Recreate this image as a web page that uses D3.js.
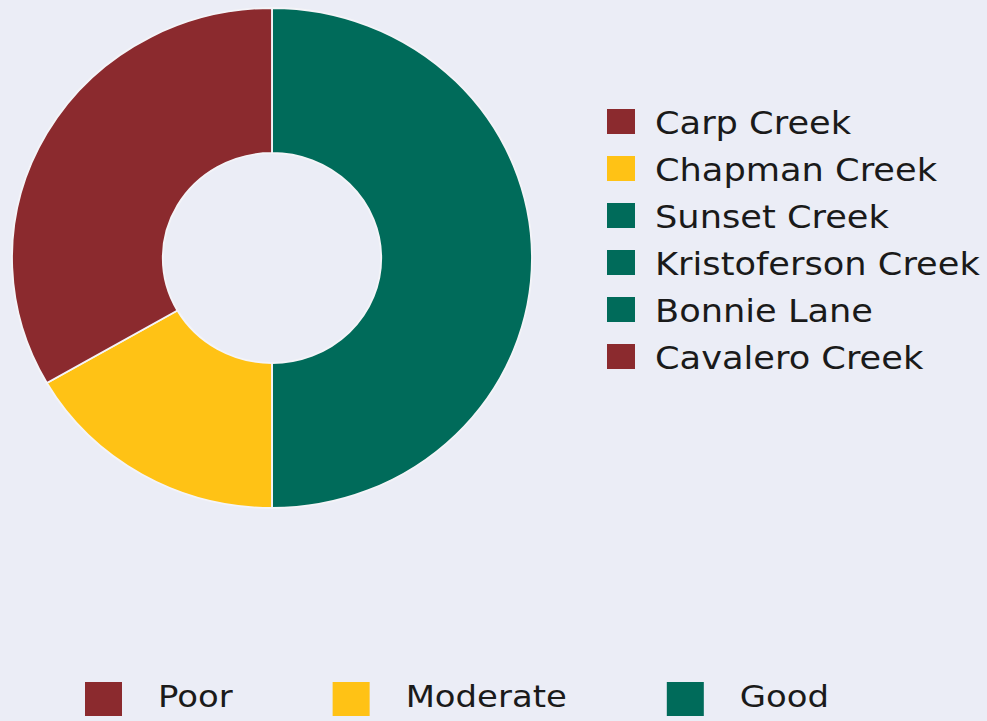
<!DOCTYPE html>
<html>
<head>
<meta charset="utf-8">
<script src="https://cdn.jsdelivr.net/npm/d3@7"></script>
<style>
  html, body { margin: 0; padding: 0; background: #ebedf6; }
  svg { display: block; }
  text { font-family: "DejaVu Sans", Verdana, sans-serif; fill: #1a1a1a; }
</style>
</head>
<body>
<div id="chart"></div>
<script>
// sites in legend order and their rating
var sites = ['Carp Creek', 'Chapman Creek', 'Sunset Creek', 'Kristoferson Creek', 'Bonnie Lane', 'Cavalero Creek'];
var siteStatus = ['Poor', 'Moderate', 'Good', 'Good', 'Good', 'Poor'];
var statusLabels = ['Poor', 'Moderate', 'Good'];
var statusColors = ['#8b2a2e', '#ffc215', '#006b5a'];
// order the ring is drawn in, clockwise from the top
var ringOrder = ['Good', 'Moderate', 'Poor'];

const width = 987;
const height = 721;

const svg = d3.select('#chart')
    .append('svg')
    .attr('width', width)
    .attr('height', height);

var color = d3.scaleOrdinal()
    .domain(statusLabels)
    .range(statusColors);

// count sites per rating
var counts = d3.rollup(siteStatus, v => v.length, d => d);
var ringData = ringOrder.map(s => ({status: s, count: counts.get(s) || 0}));

var pie = d3.pie()
    .sort(null)
    .value(d => d.count);

var arc = d3.arc()
    .innerRadius(105)
    .outerRadius(250);

var ring = svg.append('g')
    .attr('transform', 'translate(272,258) scale(1.04,1)');

ring.selectAll('path')
    .data(pie(ringData))
    .enter()
    .append('path')
    .attr('d', arc)
    .attr('fill', d => color(d.data.status))
    .attr('stroke', '#f4f4f8')
    .attr('stroke-width', 1.8);

// site legend on the right
var rowY = d3.scalePoint()
    .domain(sites)
    .range([109, 344]);

var siteLegend = svg.append('g');

var rows = siteLegend.selectAll('g')
    .data(sites)
    .enter()
    .append('g')
    .attr('transform', d => 'translate(607,' + rowY(d) + ')');

rows.append('rect')
    .attr('width', 28)
    .attr('height', 25)
    .attr('fill', (d, i) => color(siteStatus[i]));

rows.append('text')
    .attr('transform', 'translate(48,25) scale(1.1,1)')
    .style('font-size', '32px')
    .text(d => d);

// rating legend at the bottom
var bottom = svg.append('g');
var x = 85;
statusLabels.forEach(function(s) {
    bottom.append('rect')
        .attr('x', x)
        .attr('y', 682)
        .attr('width', 37)
        .attr('height', 34)
        .attr('fill', color(s));
    var t = bottom.append('text')
        .attr('transform', 'translate(' + (x + 73) + ',707) scale(1.13,1)')
        .style('font-size', '30px')
        .text(s);
    x = x + 73 + t.node().getComputedTextLength() * 1.13 + 100;
});
</script>
</body>
</html>
